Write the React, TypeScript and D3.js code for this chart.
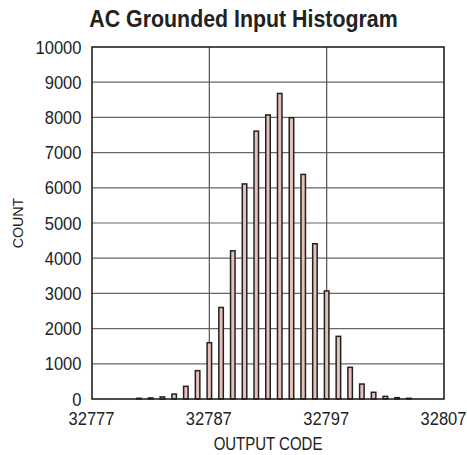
import React from "react";
import * as d3 from "d3";

const codes = [32781, 32782, 32783, 32784, 32785, 32786, 32787, 32788, 32789, 32790, 32791, 32792, 32793, 32794, 32795, 32796, 32797, 32798, 32799, 32800, 32801, 32802, 32803, 32804];
const counts = [20, 30, 60, 140, 360, 805, 1600, 2600, 4210, 6110, 7610, 8070, 8680, 7990, 6380, 4410, 3070, 1780, 900, 425, 190, 75, 38, 20];
const xTicks = [32777, 32787, 32797, 32807];
const yTicks = [0, 1000, 2000, 3000, 4000, 5000, 6000, 7000, 8000, 9000, 10000];
const title = "AC Grounded Input Histogram";
const xLabel = "OUTPUT CODE";
const yLabel = "COUNT";

const font = "'Liberation Sans', Arial, sans-serif";

function Txt(props: { x: number; y: number; sx: number; size: number; anchor: string; bold?: boolean; rotate?: number; children: React.ReactNode }) {
  const { x, y, sx, size, anchor, bold, rotate, children } = props;
  return (
    <g transform={`translate(${x},${y})${rotate ? ` rotate(${rotate})` : ""} scale(${sx},1)`}>
      <text x={0} y={0} textAnchor={anchor} fontFamily={font} fontWeight={bold ? "bold" : "normal"} fontSize={size} fill="#222">{children}</text>
    </g>
  );
}

export default function App() {
  const W = 467, H = 455;
  const m = { left: 92, right: 23, top: 47, bottom: 56 };
  const x = d3.scaleLinear().domain([32777, 32807]).range([m.left, W - m.right]);
  const y = d3.scaleLinear().domain([0, 10000]).range([H - m.bottom, m.top]);
  const bw = 4.5;
  return (
    <div style={{ position: "absolute", left: 0, top: 0 }}>
      <svg width={W} height={H} style={{ display: "block", background: "#fff" }}>
        <Txt x={243.5} y={26.7} sx={0.89} size={24} anchor="middle" bold>{title}</Txt>
        {yTicks.map((t) => (
          <g key={"y" + t}>
            {t > 0 && t < 10000 && (
              <line x1={x(32777)} x2={x(32807)} y1={y(t)} y2={y(t)} stroke="#666" strokeWidth={1.2} />
            )}
            <Txt x={81.5} y={y(t) + 6.5} sx={0.87} size={19} anchor="end">{t}</Txt>
          </g>
        ))}
        {xTicks.map((t) => (
          <g key={"x" + t}>
            {t > 32777 && t < 32807 && (
              <line x1={x(t)} x2={x(t)} y1={y(0)} y2={y(10000)} stroke="#555" strokeWidth={1.2} />
            )}
            <Txt x={x(t) - 0.5} y={424.5} sx={0.87} size={19} anchor="middle">{t}</Txt>
          </g>
        ))}
        {codes.map((c, i) => (
          <rect key={c} x={x(c) - bw / 2} y={y(counts[i])} width={bw} height={y(0) - y(counts[i])}
            fill="#e6c0b9" stroke="#222" strokeWidth={1.5} />
        ))}
        <rect x={x(32777)} y={y(10000)} width={x(32807) - x(32777)} height={y(0) - y(10000)} fill="none" stroke="#222" strokeWidth={1.6} />
        <Txt x={268} y={450} sx={0.81} size={18.5} anchor="middle">{xLabel}</Txt>
        <Txt x={23} y={(y(0) + y(10000)) / 2} sx={0.92} size={15.5} anchor="middle" rotate={-90}>{yLabel}</Txt>
      </svg>
    </div>
  );
}
